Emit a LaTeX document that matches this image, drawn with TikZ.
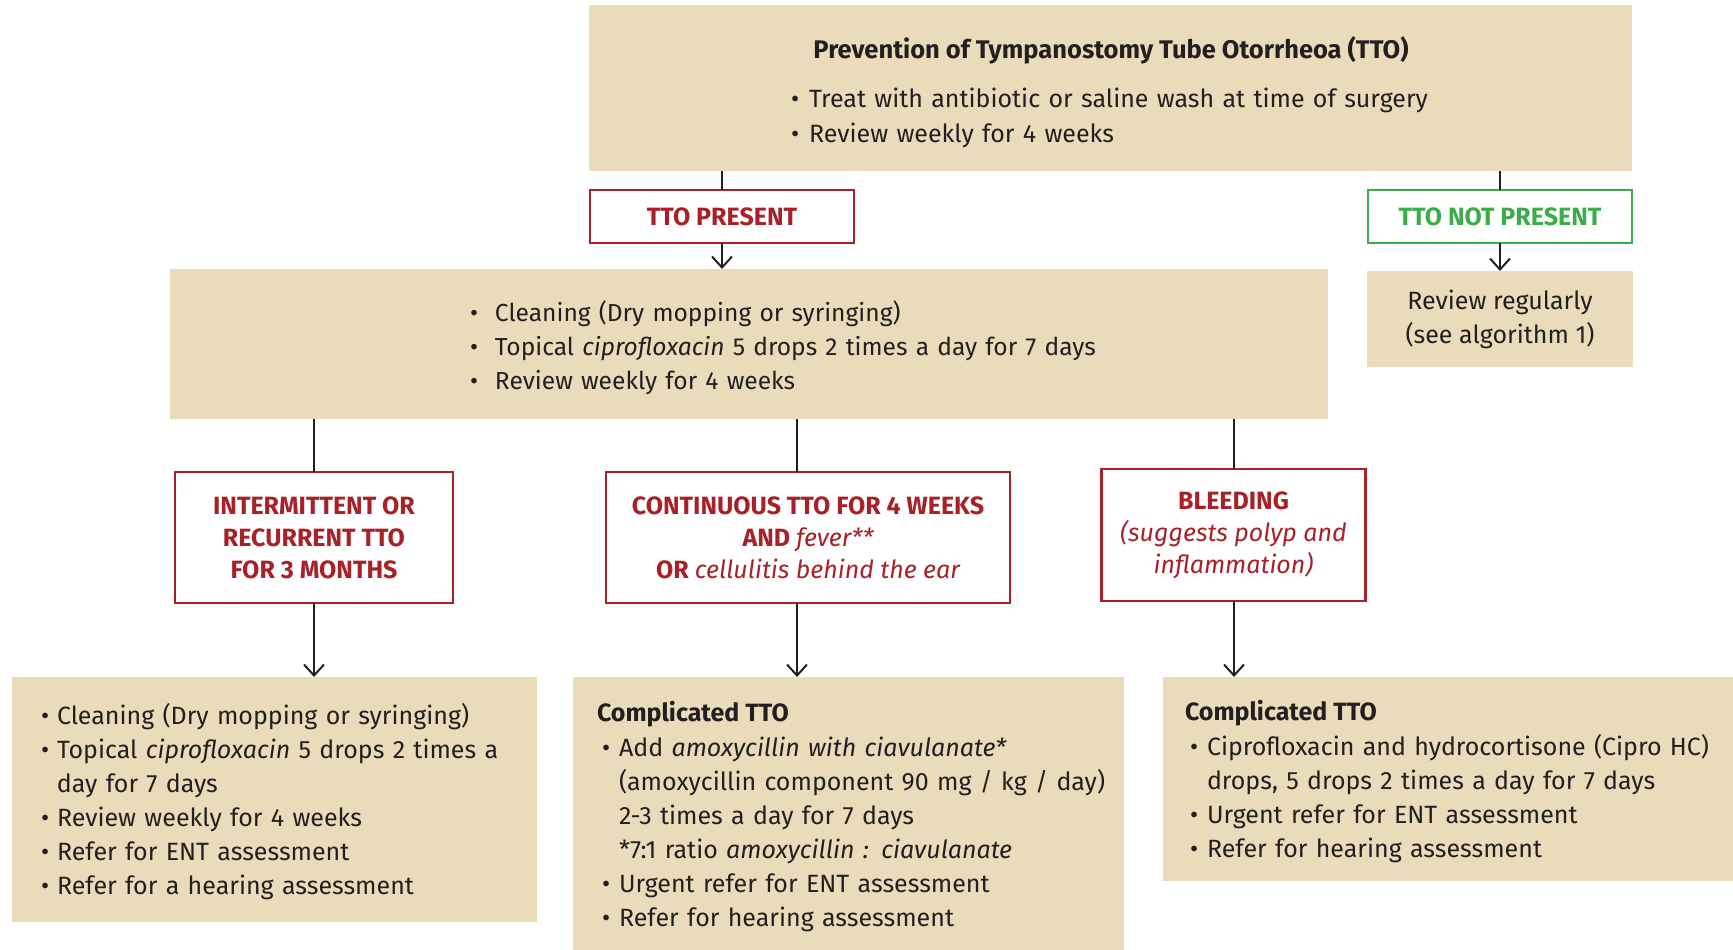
\documentclass[tikz,border=0pt]{standalone}
\usepackage{fontspec}
\setmainfont{Fira Sans}
\usetikzlibrary{arrows.meta}
\definecolor{beige}{RGB}{234,220,187}
\definecolor{tred}{RGB}{168,33,40}
\definecolor{tgreen}{RGB}{59,172,74}
\definecolor{ink}{RGB}{35,31,32}
\newcommand{\tbul}[2]{\hangindent=#1\hangafter=1\noindent\makebox[#1][l]{\textbullet}#2\par}
\newcommand{\nl}{\hfill\break}
\begin{document}
\begin{tikzpicture}[x=1pt,y=-1pt,
  every node/.style={inner sep=0pt, outer sep=0pt, text=ink},
  fillbox/.style={fill=beige, draw=none, rectangle},
  redbox/.style={draw=tred, line width=2.5pt, fill=white, text=tred, align=center,
    font=\bfseries\fontsize{25}{32}\selectfont},
  greenbox/.style={draw=tgreen, line width=2.5pt, fill=white, text=tgreen, align=center,
    font=\bfseries\fontsize{25}{32}\selectfont},
  txt/.style={anchor=base west, align=left, font=\fontsize{25}{34}\selectfont},
  conn/.style={draw=ink, line width=2pt},
  arr/.style={conn, -{Straight Barb[length=11pt,width=20pt]}},
]
\useasboundingbox (0,0) rectangle (1733,950);
% top box
\node[fillbox, minimum width=1043pt, minimum height=165.5pt] (top) at (1110.5,88.25) {};
\node[anchor=base, font=\bfseries\fontsize{25.5}{34}\selectfont] (title) at (1111,58.5)
  {Prevention of Tympanostomy Tube Otorrheoa (TTO)};
\node[txt, text width=800pt, font=\fontsize{25}{35}\selectfont] (topl) at (791,107.5)
  {\tbul{18pt}{Treat with antibiotic or saline wash at time of surgery}\tbul{18pt}{Review weekly for 4 weeks}};
% decision boxes
\node[redbox, minimum width=264pt, minimum height=53pt] (tp) at (722,216.5) {TTO PRESENT};
\node[greenbox, minimum width=264pt, minimum height=53pt] (tnp) at (1500,216.5) {TTO NOT PRESENT};
% main box
\node[fillbox, minimum width=1158pt, minimum height=150pt] (main) at (749,344) {};
\node[txt, text width=820pt, font=\fontsize{24.6}{34}\selectfont] (mainl) at (470,321.5)
  {\tbul{25pt}{Cleaning (Dry mopping or syringing)}\tbul{25pt}{Topical \textit{ciprofloxacin} 5 drops 2 times a day for 7 days}\tbul{25pt}{Review weekly for 4 weeks}};
% review box
\node[fillbox, minimum width=266pt, minimum height=96pt, align=center, font=\fontsize{25}{34}\selectfont] (rev) at (1500,319)
  {Review regularly\\(see algorithm 1)};
% condition boxes
\node[redbox, minimum width=278pt, minimum height=131pt] (c1) at (314,537.5)
  {INTERMITTENT OR\\RECURRENT TTO\\FOR 3 MONTHS};
\node[redbox, minimum width=404pt, minimum height=131pt] (c2) at (808,537.5)
  {CONTINUOUS TTO FOR 4 WEEKS\\AND {\mdseries\itshape fever**}\\OR {\mdseries\itshape cellulitis behind the ear}};
\node[redbox, minimum width=264pt, minimum height=132pt] (c3) at (1233.5,535)
  {BLEEDING\\{\mdseries\itshape (suggests polyp and}\\{\mdseries\itshape inflammation)}};
% bottom boxes
\node[fillbox, minimum width=525pt, minimum height=245pt] (b1) at (274.5,799.5) {};
\node[txt, text width=495pt] (b1l) at (41,724.5)
  {\tbul{16pt}{Cleaning (Dry mopping or syringing)}\tbul{16pt}{Topical \textit{ciprofloxacin} 5 drops 2 times a\nl day for 7 days}\tbul{16pt}{Review weekly for 4 weeks}\tbul{16pt}{Refer for ENT assessment}\tbul{16pt}{Refer for a hearing assessment}};
\node[fillbox, minimum width=551pt, minimum height=273pt] (b2) at (848.5,813.5) {};
\node[txt, font=\bfseries\fontsize{25}{34}\selectfont] (b2t) at (597,721.5) {Complicated TTO};
\node[txt, text width=525pt] (b2l) at (602,756.5)
  {\tbul{17pt}{Add \textit{amoxycillin with ciavulanate*}\nl (amoxycillin component 90 mg / kg / day)\nl 2-3 times a day for 7 days\nl {}*7:1 ratio \textit{amoxycillin : ciavulanate}}\tbul{17pt}{Urgent refer for ENT assessment}\tbul{17pt}{Refer for hearing assessment}};
\node[fillbox, minimum width=570pt, minimum height=204pt] (b3) at (1448,779) {};
\node[txt, font=\bfseries\fontsize{25}{34}\selectfont] (b3t) at (1185,720.5) {Complicated TTO};
\node[txt, text width=545pt] (b3l) at (1190,755.5)
  {\tbul{17pt}{Ciprofloxacin and hydrocortisone (Cipro HC)\nl drops, 5 drops 2 times a day for 7 days}\tbul{17pt}{Urgent refer for ENT assessment}\tbul{17pt}{Refer for hearing assessment}};
% connectors
\coordinate (c2x) at (797,472);
\coordinate (c3x) at (1234,469);
\draw[conn] (top.south -| tp.north) -- (tp.north);
\draw[arr] (tp.south) -- (tp.south |- main.north);
\draw[conn] (top.south -| tnp.north) -- (tnp.north);
\draw[arr] (tnp.south) -- (tnp.south |- rev.north);
\draw[conn] (main.south -| c1.north) -- (c1.north);
\draw[conn] (main.south -| c2x) -- (c2.north -| c2x);
\draw[conn] (main.south -| c3x) -- (c3.north -| c3x);
\draw[arr] (c1.south) -- (c1.south |- b1.north);
\draw[arr] (c2.south -| c2x) -- (b2.north -| c2x);
\draw[arr] (c3.south -| c3x) -- (b3.north -| c3x);
\end{tikzpicture}
\end{document}
